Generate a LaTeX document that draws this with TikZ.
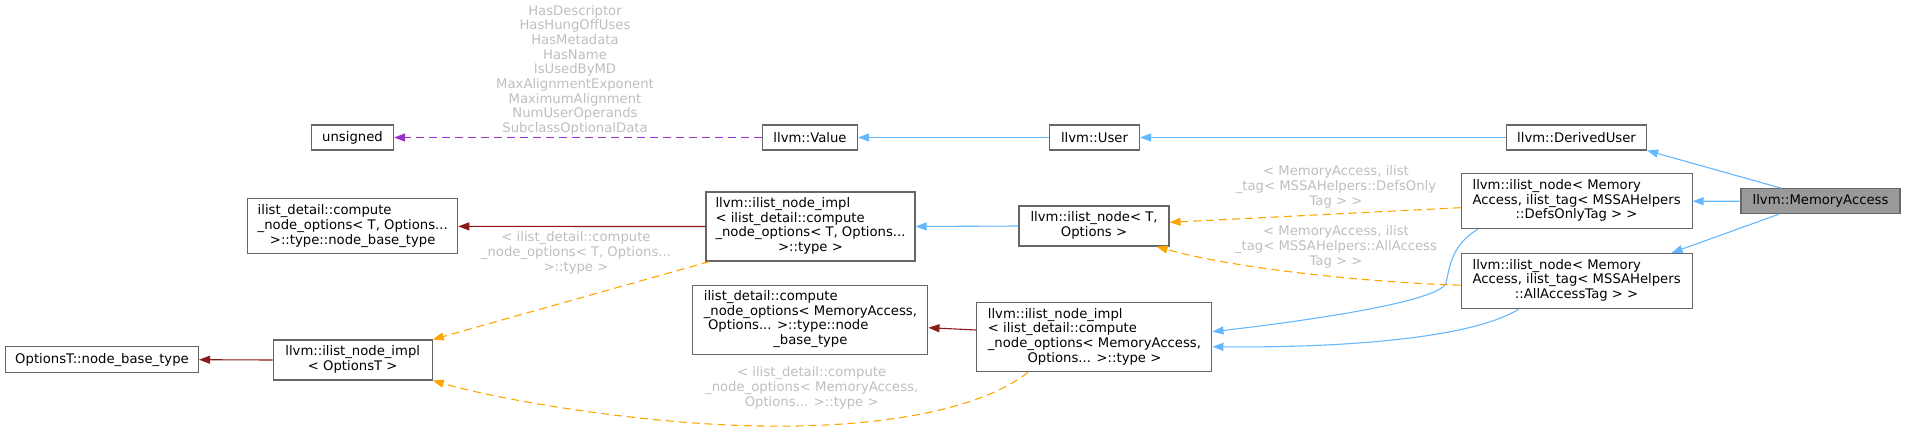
\documentclass[tikz,border=0pt]{standalone}
\usepackage{fontspec}
\setmainfont{DejaVu Sans}
\usetikzlibrary{
  arrows.meta,
  positioning
}
\definecolor{doxLine}{RGB}{102,102,102}
\definecolor{doxFocus}{RGB}{153,153,153}
\definecolor{doxInherit}{RGB}{99,184,255}
\definecolor{doxTemplate}{RGB}{139,26,26}
\definecolor{doxUsage}{RGB}{255,165,0}
\definecolor{doxMember}{RGB}{154,50,205}
\definecolor{doxLabel}{RGB}{190,190,190}
\newcommand\doxfont{\fontsize{13.2}{14.7}\selectfont}
\newcommand\doxlines[1]{\begin{tabular}{@{}l@{}}#1\end{tabular}}
\newcommand\doxlast[1]{\multicolumn{1}{@{}c@{}}{#1}}
\tikzset{
  doxbox/.style={
    draw=doxLine,
    line width=1.1pt,
    fill=white,
    inner sep=0pt,
    font=\doxfont
  },
  doxlabel/.style={
    text=doxLabel,
    align=center,
    inner sep=0pt,
    font=\doxfont
  },
  doxinherit/.style={
    -{Triangle[length=11pt,width=8pt]},
    line width=1.1pt,
    draw=doxInherit
  },
  doxtemplate/.style={
    -{Triangle[length=11pt,width=8pt]},
    line width=1.1pt,
    draw=doxTemplate
  },
  doxusage/.style={
    -{Triangle[length=11pt,width=8pt]},
    line width=1.1pt,
    dash pattern=on 8pt off 5pt,
    draw=doxUsage
  },
  doxmember/.style={
    -{Triangle[length=11pt,width=8pt]},
    line width=1.1pt,
    dash pattern=on 8pt off 5pt,
    draw=doxMember
  }
}

\begin{document}
\begin{tikzpicture}[x=1pt, y=-1pt]
  \useasboundingbox (0,0) rectangle (1905,431);

  % class itself and its direct bases
  \node[doxbox, fill=doxFocus, minimum width=159pt, minimum height=25pt] (memaccess) at (1820.5,201.3)
    {llvm::MemoryAccess};
  \node[doxbox, minimum width=140pt, minimum height=25pt] (derived) at (1576.5,137.5)
    {llvm::DerivedUser};
  \node[doxbox, minimum width=231pt, minimum height=55pt] (defsonly) at (1576.6,201.2)
    {\doxlines{llvm::ilist\_node< Memory\\Access, ilist\_tag< MSSAHelpers\\\doxlast{::DefsOnlyTag > >}}};
  \node[doxbox, minimum width=231pt, minimum height=55pt, below=23.6pt of defsonly] (allaccess)
    {\doxlines{llvm::ilist\_node< Memory\\Access, ilist\_tag< MSSAHelpers\\\doxlast{::AllAccessTag > >}}};

  % user / value chain
  \node[doxbox, minimum width=90pt, minimum height=25pt] (user) at (1094.5,137.5) {llvm::User};
  \node[doxbox, minimum width=95pt, minimum height=25pt] (value) at (810,137.5) {llvm::Value};
  \node[doxbox, minimum width=82pt, minimum height=25pt] (unsigned) at (352.5,137.5) {unsigned};

  % ilist templates
  \node[doxbox, minimum width=150pt, minimum height=40pt] (ilistnode) at (1094,226)
    {\doxlines{llvm::ilist\_node< T,\\\doxlast{Options >}}};
  \node[doxbox, minimum width=209pt, minimum height=69pt] (implT) at (810.5,226.5)
    {\doxlines{llvm::ilist\_node\_impl\\< ilist\_detail::compute\\\_node\_options< T, Options...\\\doxlast{>::type >}}};
  \node[doxbox, minimum width=210pt, minimum height=55pt] (computeT) at (352.7,226.4)
    {\doxlines{ilist\_detail::compute\\\_node\_options< T, Options...\\\doxlast{>::type::node\_base\_type}}};
  \node[doxbox, minimum width=235pt, minimum height=69pt] (implMA) at (1094.4,337.3)
    {\doxlines{llvm::ilist\_node\_impl\\< ilist\_detail::compute\\\_node\_options< MemoryAccess,\\\doxlast{Options... >::type >}}};
  \node[doxbox, minimum width=235pt, minimum height=69pt] (computeMA) at (810.4,319.7)
    {\doxlines{ilist\_detail::compute\\\_node\_options< MemoryAccess,\\\ Options... >::type::node\\\doxlast{\_base\_type}}};
  \node[doxbox, minimum width=159pt, minimum height=40pt] (implOpt) at (352.7,360)
    {\doxlines{llvm::ilist\_node\_impl\\\doxlast{< OptionsT >}}};
  \node[doxbox, minimum width=193pt, minimum height=26pt] (optbase) at (102,359.7)
    {OptionsT::node\_base\_type};

  % edge labels
  \node[doxlabel] (lblflags) at (575,70.2)
    {HasDescriptor\\HasHungOffUses\\HasMetadata\\HasName\\IsUsedByMD\\MaxAlignmentExponent\\MaximumAlignment\\NumUserOperands\\SubclassOptionalData};
  \node[doxlabel] (lblT) at (576,253)
    {< ilist\_detail::compute\\\_node\_options< T, Options...\\>::type >};
  \node[doxlabel] (lblMA) at (811.7,387.7)
    {< ilist\_detail::compute\\\_node\_options< MemoryAccess,\\Options... >::type >};
  \node[doxlabel] (lbldefs) at (1336,186.7)
    {< MemoryAccess, ilist\\\_tag< MSSAHelpers::DefsOnly\\Tag > >};
  \node[doxlabel] (lblall) at (1336,246.7)
    {< MemoryAccess, ilist\\\_tag< MSSAHelpers::AllAccess\\Tag > >};

  % inheritance
  \draw[doxinherit] (memaccess.west) -- (defsonly.east);
  \draw[doxinherit] ([xshift=-39pt]memaccess.north) -- (derived.south east);
  \draw[doxinherit] ([xshift=-42pt]memaccess.south) -- ([xshift=95pt]allaccess.north);
  \draw[doxinherit] (derived.west) -- (user.east);
  \draw[doxinherit] (user.west) -- (value.east);
  \draw[doxinherit] (ilistnode.west) -- (implT.east);
  \draw[doxinherit] ([xshift=-99pt]defsonly.south)
    .. controls (1452,245) and (1450,265) .. (1446,283)
    .. controls (1440,300) and (1330,318) .. ([yshift=5.6pt]implMA.east);
  \draw[doxinherit] ([xshift=-57.6pt]allaccess.south)
    .. controls (1470,340) and (1330,348) .. ([yshift=-9.4pt]implMA.east);

  % template instances
  \draw[doxtemplate] (implT.west) -- (computeT.east);
  \draw[doxtemplate] ([yshift=7.3pt]implMA.west) -- ([yshift=-8pt]computeMA.east);
  \draw[doxtemplate] (implOpt.west) -- (optbase.east);

  % usage
  \draw[doxmember] (value.west) -- (unsigned.east);
  \draw[doxusage] ([xshift=4pt]implT.south west) -- (implOpt.north east);
  \draw[doxusage] ([xshift=-66.4pt]implMA.south)
    .. controls (980,410) and (880,428) .. (760,426)
    .. controls (640,424) and (500,400) .. (implOpt.south east);
  \draw[doxusage] ([yshift=-6.5pt]defsonly.west) -- ([yshift=3.7pt]ilistnode.east);
  \draw[doxusage] ([yshift=-4.3pt]allaccess.west)
    .. controls (1380,283) and (1240,270) .. ([xshift=-13pt]ilistnode.south east);
\end{tikzpicture}
\end{document}
